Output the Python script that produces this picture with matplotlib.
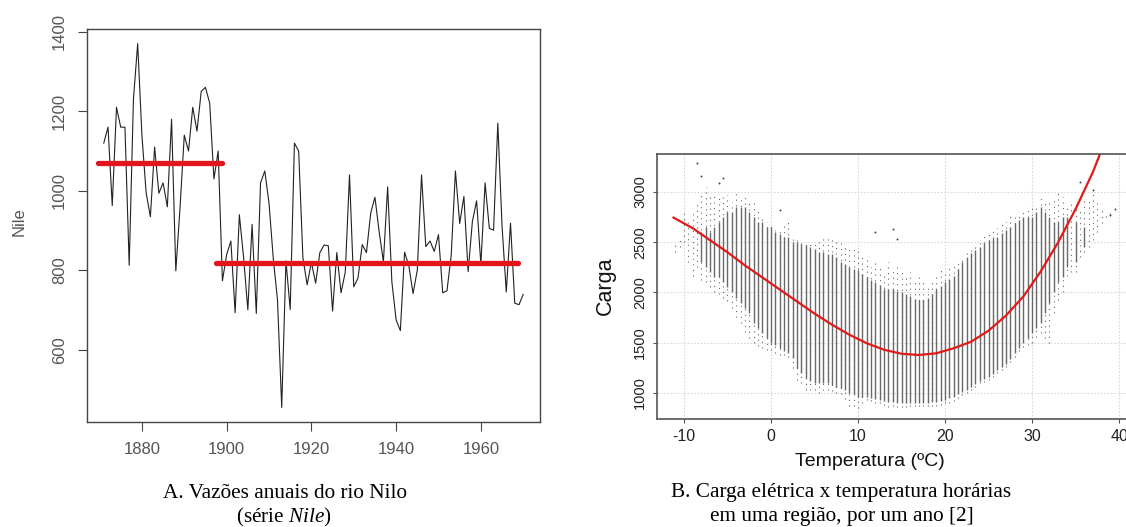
import numpy as np
import matplotlib
matplotlib.use("Agg")
import matplotlib.pyplot as plt

plt.rcParams['font.family'] = ['Liberation Sans', 'DejaVu Sans']
plt.rcParams['axes.unicode_minus'] = False
plt.rcParams['mathtext.fontset'] = 'custom'
plt.rcParams['mathtext.rm'] = 'Liberation Serif'
plt.rcParams['mathtext.it'] = 'Liberation Serif:italic'

# ---- painel A: serie Nile ----
anos = list(range(1871, 1971))
nile = [1120, 1160, 963, 1210, 1160, 1160, 813, 1230, 1370, 1140,
        995, 935, 1110, 994, 1020, 960, 1180, 799, 958, 1140,
        1100, 1210, 1150, 1250, 1260, 1220, 1030, 1100, 774, 840,
        874, 694, 940, 833, 701, 916, 692, 1020, 1050, 969,
        831, 726, 456, 824, 702, 1120, 1100, 832, 764, 821,
        768, 845, 864, 862, 698, 845, 744, 796, 1040, 759,
        781, 865, 845, 944, 984, 897, 822, 1010, 771, 676,
        649, 846, 812, 742, 801, 1040, 860, 874, 848, 890,
        744, 749, 838, 1050, 918, 986, 797, 923, 975, 815,
        1020, 906, 901, 1170, 912, 746, 919, 718, 714, 740]
seg_ini = [1869.6, 1897.6]
seg_fim = [1898.8, 1968.7]
seg_nivel = [1070, 820]

# ---- painel B: carga x temperatura ----
temp = [-11, -10.5, -10, -9.5, -9, -8.5, -8, -7.5, -7, -6.5, -6, -5.5, -5, -4.5,
        -4, -3.5, -3, -2.5, -2, -1.5, -1, -0.5, 0, 0.5, 1, 1.5, 2, 2.5, 3, 3.5,
        4, 4.5, 5, 5.5, 6, 6.5, 7, 7.5, 8, 8.5, 9, 9.5, 10, 10.5, 11, 11.5,
        12, 12.5, 13, 13.5, 14, 14.5, 15, 15.5, 16, 16.5, 17, 17.5, 18, 18.5,
        19, 19.5, 20, 20.5, 21, 21.5, 22, 22.5, 23, 23.5, 24, 24.5, 25, 25.5,
        26, 26.5, 27, 27.5, 28, 28.5, 29, 29.5, 30, 30.5, 31, 31.5, 32, 32.5,
        33, 33.5, 34, 34.5, 35, 35.5, 36, 36.5, 37, 37.5, 38, 38.5, 39, 39.5]
carga_min = [2400, 2450, 2500, 2300, 2160, 2250, 2120, 2100, 2050, 2000, 1980, 1950, 1920, 1850,
             1760, 1700, 1610, 1550, 1500, 1470, 1450, 1430, 1430, 1400, 1380, 1380, 1360, 1250, 1130, 1100,
             1030, 1030, 1030, 1000, 1030, 1030, 1020, 1000, 990, 940, 870, 870, 850, 900, 930, 920,
             900, 900, 880, 860, 870, 860, 860, 860, 870, 870, 870, 870, 870, 870,
             870, 880, 900, 900, 920, 950, 980, 1000, 1030, 1060, 1100, 1110, 1130, 1160,
             1200, 1230, 1260, 1310, 1360, 1420, 1460, 1480, 1500, 1560, 1600, 1550, 1500, 1800,
             1930, 2000, 2160, 2200, 2200, 2350, 2400, 2450, 2520, 2600, 2690, 2750, 2780, 2830]
carga_max = [2480, 2550, 2800, 2700, 2790, 2900, 3000, 3050, 2950, 3000, 2950, 2950, 2970, 2900,
             3020, 2950, 2950, 2900, 2890, 2850, 2750, 2700, 2660, 2620, 2620, 2700, 2700, 2550, 2540, 2520,
             2520, 2500, 2490, 2500, 2550, 2550, 2550, 2500, 2500, 2470, 2450, 2430, 2420, 2380, 2350, 2250,
             2300, 2250, 2200, 2300, 2250, 2250, 2220, 2150, 2200, 2120, 2160, 2100, 2080, 2120,
             2150, 2250, 2200, 2250, 2300, 2320, 2360, 2420, 2450, 2480, 2520, 2600, 2580, 2620,
             2640, 2680, 2700, 2760, 2780, 2800, 2820, 2860, 2870, 2880, 2950, 2900, 2890, 2950,
             2990, 2950, 2880, 2900, 2920, 2850, 2950, 2950, 3020, 2900, 2850, 2800, 2800, 2830]
N = None
denso_min = [N, N, N, N, N, N, 2300, 2250, 2200, 2150, 2150, 2100, 2050, 2000,
             1950, 1900, 1850, 1800, 1700, 1650, 1600, 1550, 1500, 1480, 1450, 1420, 1400, 1350, 1250, 1200,
             1150, 1120, 1100, 1100, 1100, 1100, 1080, 1060, 1050, 1030, 1000, 990, 960, 960, 960, 950,
             940, 930, 920, 910, 910, 900, 900, 900, 900, 900, 900, 900, 900, 910,
             910, 920, 930, 950, 960, 990, 1010, 1030, 1060, 1090, 1120, 1140, 1160, 1190,
             1230, 1260, 1290, 1340, 1400, 1450, 1500, 1550, 1600, 1650, 1700, 1800, 1900, 2000,
             2100, 2150, 2250, N, 2300, N, 2450, N, N, N, N, N, N, N]
denso_max = [N, N, N, N, N, N, 2600, 2650, 2600, 2650, 2700, 2750, 2800, 2800,
             2850, 2850, 2850, 2800, 2750, 2700, 2700, 2650, 2650, 2600, 2580, 2550, 2550, 2500, 2500, 2480,
             2470, 2450, 2430, 2400, 2400, 2380, 2380, 2350, 2300, 2280, 2250, 2230, 2220, 2180, 2150, 2120,
             2100, 2070, 2030, 2030, 2030, 2010, 2000, 1980, 1960, 1940, 1930, 1930, 1950, 1980,
             2030, 2060, 2100, 2130, 2160, 2230, 2300, 2350, 2390, 2420, 2450, 2490, 2520, 2540,
             2550, 2590, 2620, 2650, 2690, 2720, 2750, 2750, 2750, 2800, 2850, 2800, 2750, 2700,
             2700, 2750, 2750, N, 2700, N, 2650, N, N, N, N, N, N, N]
out_temp = [-8.5, -8, -6, -5.5, 1, 12, 14, 14.5, 35.5, 37, 39, 39.5]
out_carga = [3290, 3160, 3090, 3140, 2820, 2600, 2630, 2530, 3100, 3020, 2770, 2830]
curva_temp = [-11.2, -9, -7, -5, -3, -1, 1, 3, 5, 7, 9, 11, 13, 15, 17, 19,
              21, 23, 25, 27, 29, 31, 33, 35, 37, 38]
curva_carga = [2745, 2640, 2520, 2400, 2270, 2150, 2030, 1910, 1790, 1680, 1580, 1495,
               1430, 1390, 1378, 1395, 1445, 1510, 1620, 1770, 1960, 2210, 2500, 2830,
               3200, 3420]

fig = plt.figure(figsize=(11.26, 5.27), dpi=100)

# ---------- A ----------
ax1 = fig.add_axes([87 / 1126, 1 - 422 / 527, 453 / 1126, 393 / 527])
ax1.plot(anos, nile, color='#222222', lw=0.8)
for a, b, v in zip(seg_ini, seg_fim, seg_nivel):
    ax1.plot([a, b], [v, v], color='#e3141c', lw=3.8, solid_capstyle='round')
ax1.set_xlim(1867.04, 1973.96)
ax1.set_ylim(419.4, 1406.6)
ax1.set_xticks([1880, 1900, 1920, 1940, 1960])
ax1.set_yticks([600, 800, 1000, 1200, 1400])
for s in ax1.spines.values():
    s.set_color('#444444')
    s.set_linewidth(1.0)
ax1.tick_params(direction='out', length=6.5, width=0.8, color='#444444',
                labelsize=12, labelcolor='#555555', pad=8)
for lab in ax1.get_yticklabels():
    lab.set_rotation(90)
    lab.set_va('center')
fig.text(19 / 1126, 1 - 222 / 527, 'Nile', rotation=90, ha='center', va='center',
         fontsize=12, color='#555555')

# ---------- B ----------
ax2 = fig.add_axes([657 / 1126, 1 - 419 / 527, 476 / 1126, 265 / 527])
ax2.set_xlim(-13.1, 41.6)
ax2.set_ylim(741, 3378)
ax2.set_xticks([-10, 0, 10, 20, 30, 40])
ax2.set_yticks([1000, 1500, 2000, 2500, 3000])
ax2.grid(True, color='#d8d8d8', linestyle=(0, (1.5, 1.5)), lw=0.8)
ax2.set_axisbelow(True)

t = np.array(temp, dtype=float)
dmin = np.array(denso_min, dtype=float)
dmax = np.array(denso_max, dtype=float)
ax2.vlines(t, carga_min, carga_max, colors='#666666', lw=0.8,
           linestyles=[(0, (1.0, 4.0))])
ok = ~np.isnan(dmin)
ax2.vlines(t[ok], dmin[ok], dmax[ok], colors='#6a6a6a', lw=1.0)
ax2.scatter(out_temp, out_carga, s=2, color='#444444', lw=0)
ax2.plot(curva_temp, curva_carga, color='#e01a1a', lw=1.6)

for s in ['left', 'bottom', 'top']:
    ax2.spines[s].set_color('#555555')
    ax2.spines[s].set_linewidth(1.2)
ax2.spines['right'].set_visible(False)
ax2.tick_params(direction='out', length=3, width=0.8, color='#555555',
                labelcolor='#222222')
ax2.tick_params(axis='x', labelsize=11.5, pad=4)
ax2.tick_params(axis='y', labelsize=10.5, pad=4)
for lab in ax2.get_yticklabels():
    lab.set_rotation(90)
    lab.set_va('center')
fig.text(605 / 1126, 1 - 286 / 527, 'Carga', rotation=90, ha='center', va='center',
         fontsize=15.5, color='#111111')
fig.text(870 / 1126, 1 - 462 / 527, 'Temperatura (ºC)', ha='center', va='center',
         fontsize=14, color='#111111')

# ---------- legendas ----------
serif = ['Liberation Serif', 'DejaVu Serif']
fig.text(285 / 1126, 1 - 493 / 527, 'A. Vazões anuais do rio Nilo', ha='center', va='center',
         fontsize=15.3, family=serif)
fig.text(284 / 1126, 1 - 517 / 527, r'(série $\it{Nile}$)', ha='center', va='center',
         fontsize=15.3, family=serif)
fig.text(841 / 1126, 1 - 493 / 527, 'B. Carga elétrica x temperatura horárias', ha='center',
         va='center', fontsize=15.3, family=serif)
fig.text(842 / 1126, 1 - 517 / 527, 'em uma região, por um ano [2]', ha='center', va='center',
         fontsize=15.3, family=serif)

fig.savefig('out.png', dpi=100)
